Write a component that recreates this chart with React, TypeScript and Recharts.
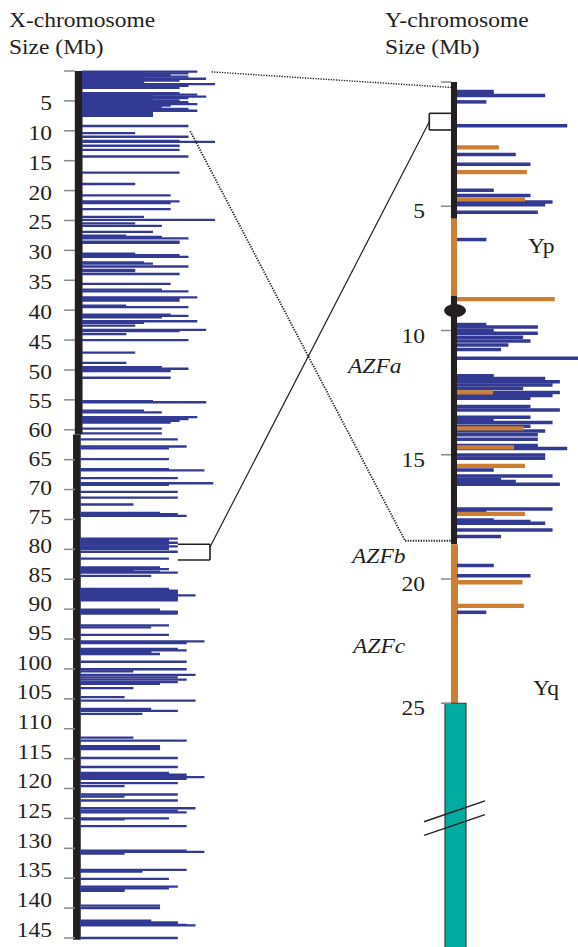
import React from 'react';
import { ComposedChart, XAxis, YAxis, ReferenceLine, ReferenceArea, ReferenceDot } from 'recharts';

// ---------------- data ----------------
const X_TICKS = [0, 5, 10, 15, 20, 25, 30, 35, 40, 45, 50, 55, 60, 65, 70, 75, 80, 85, 90, 95, 100, 105, 110, 115, 120, 125, 130, 135, 140, 145];
const Y_TICKS = [0, 5, 10, 15, 20, 25];

// X-chromosome genes: [position (Mb), length (units)]
const X_GENES: [number, number][] = [
  [0.12, 13], [0.25, 7], [0.4, 12], [0.55, 7], [0.7, 10], [0.85, 7], [0.95, 12], [1.15, 7], [1.3, 14], [1.45, 7], [1.6, 11], [1.8, 7], [1.95, 7], [2.05, 7],
  [2.2, 15], [2.35, 7], [2.5, 12], [2.65, 7], [2.8, 11],
  [3.7, 11], [3.82, 8], [3.95, 13], [4.12, 8], [4.3, 14], [4.42, 8], [4.55, 12], [4.72, 8], [4.9, 11], [5.05, 8], [5.2, 12], [5.38, 8], [5.55, 13],
  [5.68, 8], [5.8, 10], [5.95, 8], [6.1, 9], [6.22, 8], [6.35, 12], [6.5, 8], [6.65, 13], [6.8, 8], [6.95, 8], [7.1, 8], [7.25, 8], [7.38, 8], [7.5, 8],
  [9.2, 12], [10.4, 6], [11.0, 12], [11.7, 11], [11.85, 15], [12.5, 11], [13.2, 11], [14.3, 12], [17.0, 11], [18.9, 6], [20.8, 10], [21.8, 11], [22.1, 10], [23.1, 10],
  [24.4, 7], [24.9, 15], [25.5, 6], [25.9, 9], [26.9, 8], [27.55, 5], [27.75, 9], [28.0, 12], [28.55, 11], [28.75, 11], [30.55, 6], [30.8, 11], [31.1, 12],
  [32.0, 7], [32.2, 8], [32.7, 12], [33.25, 6], [33.45, 6], [33.95, 11], [35.6, 10], [36.55, 9], [36.85, 12], [37.85, 13], [38.1, 11], [38.4, 11],
  [39.25, 5], [39.5, 12], [40.75, 10], [40.95, 12], [41.2, 9], [41.85, 13], [42.1, 7], [42.6, 6], [43.3, 14], [43.5, 11], [44.0, 5], [45.0, 12], [47.1, 6],
  [48.8, 5], [49.55, 9], [49.8, 12], [50.2, 10], [51.3, 10], [55.2, 8], [55.4, 14], [56.8, 7], [57.1, 9], [57.9, 13], [58.2, 12], [58.5, 11], [58.8, 10],
  [59.8, 9], [60.6, 9], [61.6, 11], [62.8, 12], [63.1, 10], [64.9, 10], [66.6, 10], [66.8, 14], [68.1, 11], [68.95, 15], [69.2, 10], [70.4, 11], [71.35, 11],
  [72.5, 6], [73.9, 9], [74.1, 11], [74.4, 12], [78.2, 11], [78.4, 10], [78.6, 10], [78.9, 11], [79.2, 10], [79.5, 11], [79.7, 10], [79.9, 10], [80.4, 11], [81.55, 10],
  [83.0, 9], [83.15, 9], [83.3, 10], [83.45, 6], [83.6, 6], [83.75, 9], [83.9, 11], [84.45, 8], [86.6, 10], [86.75, 10], [86.9, 11], [87.1, 11], [87.3, 11],
  [87.5, 11], [87.7, 13], [88.0, 11], [88.15, 11], [88.35, 11], [88.55, 11],
  [90.1, 9], [90.25, 9], [90.4, 11], [90.55, 11], [90.75, 11], [92.7, 10], [93.05, 8], [94.3, 10], [95.4, 14], [95.7, 12],
  [96.65, 11], [96.9, 12], [97.05, 8], [97.2, 8], [97.35, 8], [97.5, 9], [98.8, 12], [100.05, 12], [100.4, 6], [101.0, 13], [101.4, 11], [101.8, 12], [102.2, 11], [102.5, 9],
  [103.2, 6], [104.7, 5], [105.3, 13], [106.7, 8], [107.0, 11], [107.5, 7], [111.5, 6], [112.0, 12], [112.9, 9], [113.15, 9], [113.4, 9], [114.9, 11],
  [116.4, 11], [117.4, 10], [117.7, 12], [118.1, 14], [118.4, 12], [119.1, 11], [119.6, 5], [121.0, 11], [121.35, 5], [122.0, 11], [123.3, 13], [123.7, 11],
  [124.0, 12], [125.0, 10], [125.15, 5], [126.3, 12], [130.4, 12], [130.6, 14], [130.9, 5], [133.6, 12], [133.75, 7], [133.9, 7], [135.1, 10], [136.4, 11], [136.7, 10],
  [136.9, 5], [137.1, 5], [139.6, 9], [140.0, 9], [142.1, 8], [142.25, 8], [142.4, 11], [142.6, 11], [142.8, 12], [142.9, 13], [145.0, 11],
];

// Y-chromosome genes: [position (Mb), length (units)]
const Y_GENES_BLUE: [number, number][] = [
  [0.38, 5], [0.46, 5], [0.54, 12], [0.8, 4], [1.76, 15], [2.92, 8], [3.31, 10], [4.36, 5], [4.57, 10], [4.83, 13], [4.94, 12], [5.24, 11], [6.34, 4],
  [9.76, 4], [9.86, 11], [10.0, 5], [10.11, 11], [10.27, 9], [10.42, 10], [10.58, 7], [10.76, 6], [11.12, 17],
  [11.82, 5], [11.93, 12], [12.06, 14], [12.19, 13], [12.33, 9], [12.49, 14], [12.62, 13], [12.73, 10], [13.06, 10], [13.2, 14],
  [13.49, 10], [13.6, 5], [13.7, 13], [13.85, 10], [14.04, 12], [14.2, 11], [14.38, 11], [14.63, 11], [14.75, 15], [15.01, 12], [15.14, 12],
  [15.61, 5], [15.86, 13], [15.99, 6], [16.08, 8], [16.19, 14], [17.18, 13], [17.26, 4], [17.63, 5], [17.69, 10], [17.76, 12], [18.03, 13], [18.29, 6],
  [19.46, 5], [19.87, 10], [21.34, 4],
];
const Y_GENES_ORANGE: [number, number][] = [
  [2.63, 5.7], [3.63, 9.5], [4.72, 9.25], [8.74, 13.3], [12.49, 4.9], [13.94, 9.1], [14.7, 7.75], [15.45, 9.25], [17.38, 9.25], [20.13, 8.9], [21.08, 9.1],
];

// Y-chromosome bands (Mb)
const Y_BANDS = [
  { from: 0, to: 5.5, kind: 'dark' },
  { from: 5.5, to: 8.6, kind: 'orange' },
  { from: 8.6, to: 18.6, kind: 'dark' },
  { from: 18.6, to: 25, kind: 'orange' },
  { from: 25, to: 34.85, kind: 'teal' },
];
const Y_CENTROMERE_MB = 9.2;
const Y_BREAK_MB = [29.35, 29.9];
const X_END_MB = 145.3;
const X_SHIFT_MB = 60.8;

// connectors between homologous regions
type Anchor = { c: 'X' | 'Y'; mb: number; u: number };
const CONNECTORS: { dash: boolean; w: number; pts: Anchor[] }[] = [
  { dash: true, w: 1.4, pts: [{ c: 'X', mb: 0.15, u: 14.6 }, { c: 'Y', mb: 0.22, u: -0.8 }] },
  { dash: true, w: 1.8, pts: [{ c: 'X', mb: 10.05, u: 12.2 }, { c: 'Y', mb: 18.46, u: -7.07 }, { c: 'Y', mb: 18.46, u: -0.82 }] },
  { dash: false, w: 1.2, pts: [{ c: 'X', mb: 79.6, u: 14.43 }, { c: 'Y', mb: 1.6, u: -3.77 }] },
  { dash: false, w: 1.6, pts: [{ c: 'X', mb: 79.15, u: 10.8 }, { c: 'X', mb: 79.15, u: 14.43 }, { c: 'X', mb: 81.77, u: 14.43 }, { c: 'X', mb: 81.77, u: 10.8 }] },
  { dash: false, w: 1.6, pts: [{ c: 'Y', mb: 1.26, u: -0.82 }, { c: 'Y', mb: 1.26, u: -3.77 }, { c: 'Y', mb: 1.93, u: -3.77 }, { c: 'Y', mb: 1.93, u: -0.82 }] },
];

// ---------------- layout ----------------
const W = 578;
const H = 947;
const TOP = 71;
const BOTTOM = 938;
const LEFT = 75;
const RIGHT = 451;
const YL_MAX = 145;
const YL_PX = (BOTTOM - TOP) / YL_MAX;
const YR_ZERO = 82;
const YR_PX = 24.85;
const XL_ZERO = 82;
const XL_UNIT = 8.87;
const XR_ZERO = 457;
const XR_UNIT = 7.35;
const X_SHIFT_U = 0.2;

const XL_DOMAIN: [number, number] = [(LEFT - XL_ZERO) / XL_UNIT, (RIGHT - XL_ZERO) / XL_UNIT];
const XR_DOMAIN: [number, number] = [(LEFT - XR_ZERO) / XR_UNIT, (RIGHT - XR_ZERO) / XR_UNIT];
const YR_DOMAIN: [number, number] = [(TOP - YR_ZERO) / YR_PX, (BOTTOM - YR_ZERO) / YR_PX];

const ROWS = X_GENES.map(([mb, len]) => ({ mb, len }));

const DARK = '#231f20';
const BLUE = '#323a93';
const ORANGE = '#cc7f32';
const TEAL = '#00aca0';
const GRAY = '#8a8a8a';
const FONT = "'Liberation Serif', 'Times New Roman', serif";
const SX = 1.12;

const toLeft = (p: Anchor) =>
  p.c === 'X'
    ? { x: p.u, y: p.mb }
    : { x: (XR_ZERO + p.u * XR_UNIT - XL_ZERO) / XL_UNIT, y: (YR_ZERO + p.mb * YR_PX - TOP) / YL_PX };

const leftLabelDy = (v: number) => (v <= 50 ? 9 : v <= 95 ? 9 - ((v - 50) * 8) / 45 : 1 - ((v - 95) * 2.5) / 50);

const LeftTick = (props: any) => {
  const { x, y, payload } = props;
  if (payload.value === 0) return <g />;
  return (
    <text transform={`translate(${x},${y + leftLabelDy(payload.value)}) scale(${SX},1)`} textAnchor="end" fontSize={21} fontFamily={FONT} fill={DARK}>
      {payload.value}
    </text>
  );
};
const RightTick = (props: any) => {
  const { x, y, payload } = props;
  if (payload.value === 0) return <g />;
  return (
    <text transform={`translate(${x},${y + 12}) scale(${SX},1)`} textAnchor="end" fontSize={21} fontFamily={FONT} fill={DARK}>
      {payload.value}
    </text>
  );
};

const bandColor = (k: string) => (k === 'dark' ? DARK : k === 'orange' ? ORANGE : TEAL);

const Label = ({ x, y, t, italic }: { x: number; y: number; t: string; italic?: boolean }) => (
  <text transform={`translate(${x},${y}) scale(${SX},1)`} fontSize={21} fontFamily={FONT} fill={DARK} fontStyle={italic ? 'italic' : 'normal'}>
    {t}
  </text>
);

export default function App() {
  const connectorLines: React.ReactNode[] = [];
  CONNECTORS.forEach((c, ci) => {
    for (let i = 0; i < c.pts.length - 1; i++) {
      const a = toLeft(c.pts[i]);
      const b = toLeft(c.pts[i + 1]);
      connectorLines.push(
        <ReferenceLine
          key={`c${ci}-${i}`}
          xAxisId="xl"
          yAxisId="yl"
          segment={[a, b]}
          stroke={DARK}
          strokeWidth={c.w}
          strokeDasharray={c.dash ? '1.3 1.3' : undefined}
          ifOverflow="visible"
        />
      );
    }
  });

  return (
    <div style={{ position: 'absolute', left: 0, top: 0, width: W, height: H, background: '#fff' }}>
      <ComposedChart width={W} height={H} data={ROWS} margin={{ top: TOP, right: W - RIGHT, bottom: H - BOTTOM, left: 0 }}>
        <XAxis xAxisId="xl" dataKey="len" type="number" domain={XL_DOMAIN} allowDataOverflow hide />
        <XAxis xAxisId="xr" dataKey="len" type="number" domain={XR_DOMAIN} allowDataOverflow hide />
        <YAxis
          yAxisId="yl"
          dataKey="mb"
          orientation="left"
          type="number"
          domain={[0, YL_MAX]}
          reversed
          allowDataOverflow
          width={LEFT}
          ticks={X_TICKS}
          interval={0}
          tickSize={11}
          tickMargin={12}
          axisLine={false}
          tickLine={{ stroke: GRAY, strokeWidth: 1.5 }}
          tick={LeftTick}
        />
        <YAxis
          yAxisId="yr"
          dataKey="mb"
          orientation="right"
          mirror
          type="number"
          domain={YR_DOMAIN}
          reversed
          allowDataOverflow
          width={1}
          ticks={Y_TICKS}
          interval={0}
          tickSize={10}
          tickMargin={16}
          axisLine={false}
          tickLine={{ stroke: GRAY, strokeWidth: 1.5 }}
          tick={RightTick}
        />

        {/* X chromosome body */}
        <ReferenceArea xAxisId="xl" yAxisId="yl" x1={-0.81} x2={0.06} y1={0} y2={X_SHIFT_MB} fill={DARK} fillOpacity={1} stroke="none" ifOverflow="visible" />
        <ReferenceArea xAxisId="xl" yAxisId="yl" x1={-0.81 - X_SHIFT_U} x2={0.06 - X_SHIFT_U} y1={X_SHIFT_MB} y2={X_END_MB} fill={DARK} fillOpacity={1} stroke="none" ifOverflow="visible" />

        {/* Y chromosome bands */}
        {Y_BANDS.map((b, i) => (
          <ReferenceArea
            key={`yb${i}`}
            xAxisId="xr"
            yAxisId="yr"
            x1={b.kind === 'teal' ? -1.63 : -0.82}
            x2={b.kind === 'teal' ? 1.22 : b.kind === 'orange' && b.from > 10 ? 0.14 : 0}
            y1={b.from}
            y2={b.to}
            fill={bandColor(b.kind)}
            fillOpacity={1}
            stroke={b.kind === 'teal' ? '#2d3a38' : 'none'}
            strokeWidth={1.2}
            ifOverflow="visible"
          />
        ))}
        <ReferenceDot
          xAxisId="xr"
          yAxisId="yr"
          x={-0.27}
          y={Y_CENTROMERE_MB}
          ifOverflow="visible"
          shape={(p: any) => <ellipse cx={p.cx} cy={p.cy} rx={11} ry={6.5} fill={DARK} />}
        />

        {/* X genes */}
        {X_GENES.map(([mb, len], i) => {
          const s = mb > X_SHIFT_MB ? -X_SHIFT_U : 0;
          return (
            <ReferenceLine
              key={`xg${i}`}
              xAxisId="xl"
              yAxisId="yl"
              segment={[{ x: s, y: mb }, { x: s + len, y: mb }]}
              stroke={BLUE}
              strokeWidth={2.3}
              ifOverflow="visible"
            />
          );
        })}

        {/* Y genes */}
        {Y_GENES_BLUE.map(([mb, len], i) => (
          <ReferenceLine
            key={`yg${i}`}
            xAxisId="xr"
            yAxisId="yr"
            segment={[{ x: 0, y: mb }, { x: len, y: mb }]}
            stroke={BLUE}
            strokeWidth={3.5}
            ifOverflow="visible"
          />
        ))}
        {Y_GENES_ORANGE.map(([mb, len], i) => (
          <ReferenceLine
            key={`yo${i}`}
            xAxisId="xr"
            yAxisId="yr"
            segment={[{ x: 0, y: mb }, { x: len, y: mb }]}
            stroke={ORANGE}
            strokeWidth={4.3}
            ifOverflow="visible"
          />
        ))}

        {/* break marks */}
        {Y_BREAK_MB.map((mb, i) => (
          <ReferenceLine
            key={`br${i}`}
            xAxisId="xr"
            yAxisId="yr"
            segment={[{ x: -4.49, y: mb + 0.42 }, { x: 3.81, y: mb - 0.42 }]}
            stroke={DARK}
            strokeWidth={1.4}
            ifOverflow="visible"
          />
        ))}

        {connectorLines}
      </ComposedChart>

      <svg width={W} height={H} style={{ position: 'absolute', left: 0, top: 0, pointerEvents: 'none' }}>
        <Label x={9} y={26.7} t="X-chromosome" />
        <Label x={9} y={54} t="Size (Mb)" />
        <Label x={385} y={26.7} t="Y-chromosome" />
        <Label x={385} y={54} t="Size (Mb)" />
        <Label x={528} y={253} t="Yp" />
        <Label x={533} y={695} t="Yq" />
        <Label x={348} y={373} t="AZFa" italic />
        <Label x={352} y={563} t="AZFb" italic />
        <Label x={353} y={653} t="AZFc" italic />
      </svg>
    </div>
  );
}
